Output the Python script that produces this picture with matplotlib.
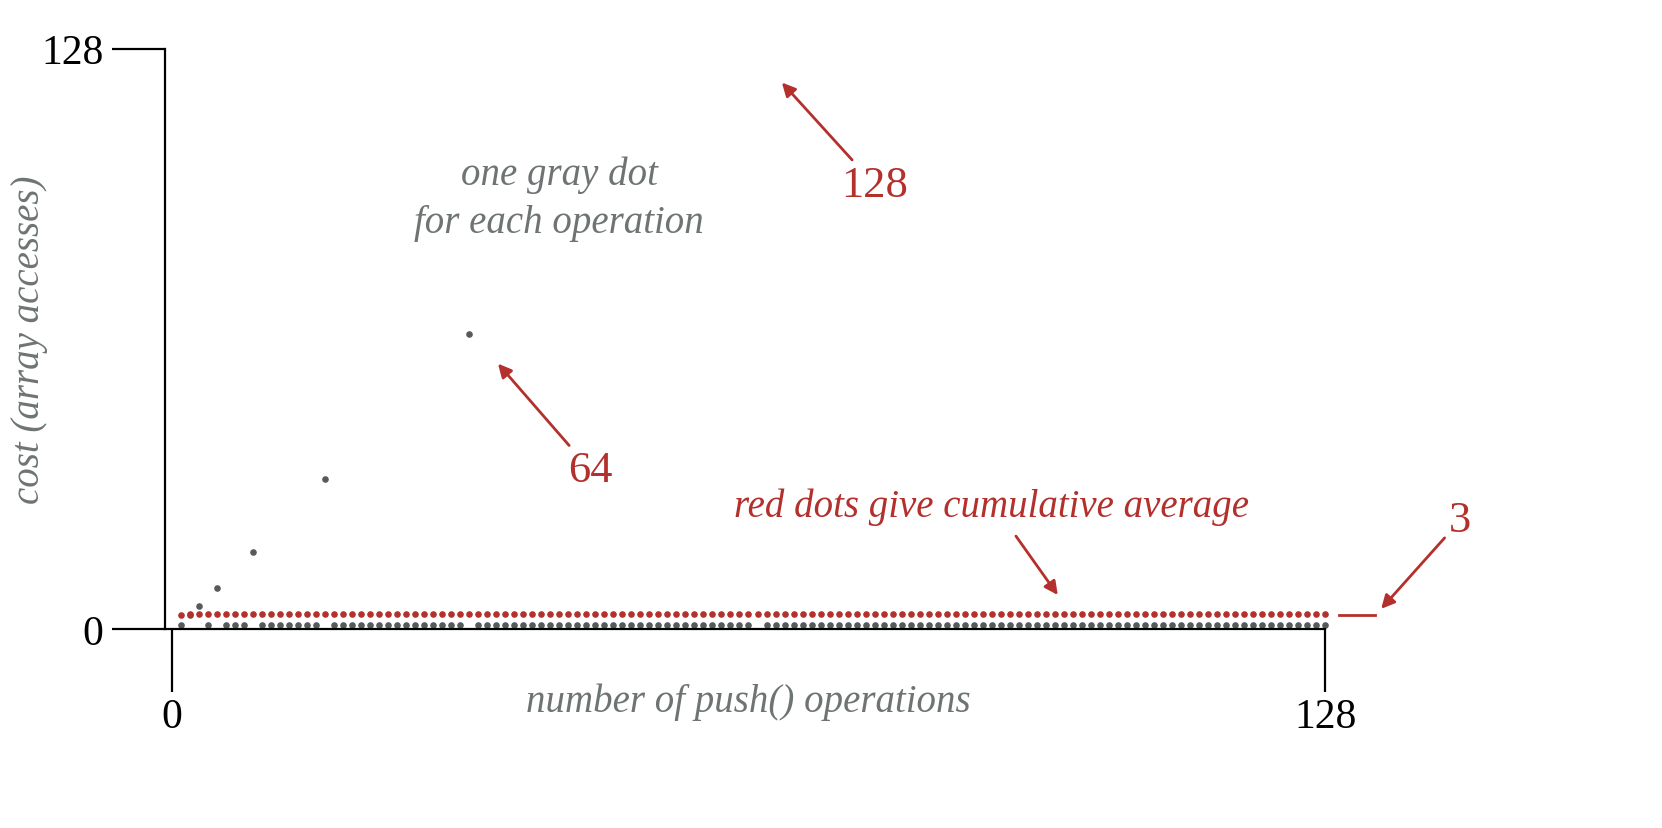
import numpy as np
import matplotlib.pyplot as plt

n_ops = 128
spike_at = [2, 3, 5, 9, 17, 33, 65]
spike_cost = [3, 5, 9, 17, 33, 65, 129]
base_cost = 1

gray = np.full(n_ops, base_cost, dtype=float)
for i, c in zip(spike_at, spike_cost):
    gray[i - 1] = c
# red dots = cumulative average cost (with 2 accesses per write counted)
ops = np.arange(1, n_ops + 1)
red = np.cumsum(gray + 2) / ops
red = np.minimum(red, 3.4)

RED = "#b3302c"
GRAY = "#6e7474"
plt.rcParams["font.family"] = ["Liberation Serif", "DejaVu Serif"]

fig = plt.figure(figsize=(16.62, 8.29), dpi=100)
ax = fig.add_axes([0.099, 0.24, 0.70, 0.70])
ax.scatter(ops, gray, s=14, color="#555a5a", zorder=2)
ax.scatter(ops, red, s=14, color=RED, zorder=3)

ax.set_xlim(-0.8, 128.3)
ax.set_ylim(0, 128)
for s in ["top", "right"]:
    ax.spines[s].set_visible(False)
ax.spines["bottom"].set_bounds(-0.8, 128)
ax.spines["left"].set_linewidth(1.6)
ax.spines["bottom"].set_linewidth(1.6)
ax.set_xticks([0, 128])
ax.set_yticks([0, 128])
ax.tick_params(axis="both", labelsize=30, width=1.6)
ax.tick_params(axis="y", length=38, pad=6)
ax.tick_params(axis="x", length=45, pad=4)

ax.set_ylabel("cost (array accesses)", fontsize=28, style="italic", color=GRAY, labelpad=-5)
ax.text(64, -16, "number of push() operations", fontsize=28, style="italic",
        color=GRAY, ha="center", va="center")
ax.text(43, 95, "one gray dot\nfor each operation", fontsize=28, style="italic",
        color=GRAY, ha="center", va="center", linespacing=1.4)

arrow = dict(arrowstyle="-|>", color=RED, lw=2, mutation_scale=20)
ax.annotate("128", xy=(67.5, 121), xytext=(78, 98), fontsize=32, color=RED,
            ha="center", va="center", arrowprops=arrow)
ax.annotate("64", xy=(36, 59), xytext=(46.5, 35), fontsize=32, color=RED,
            ha="center", va="center", arrowprops=arrow)
ax.text(91, 27, "red dots give cumulative average", fontsize=28, style="italic",
        color=RED, ha="center", va="center")
ax.annotate("", xy=(98.5, 7), xytext=(93.5, 21), arrowprops=arrow)
ax.annotate("3", xy=(134, 4), xytext=(143, 24), fontsize=32, color=RED,
            ha="center", va="center", arrowprops=arrow, annotation_clip=False)
ax.plot([129.5, 133.5], [3, 3], color=RED, lw=2, clip_on=False)

fig.savefig("out.png")
